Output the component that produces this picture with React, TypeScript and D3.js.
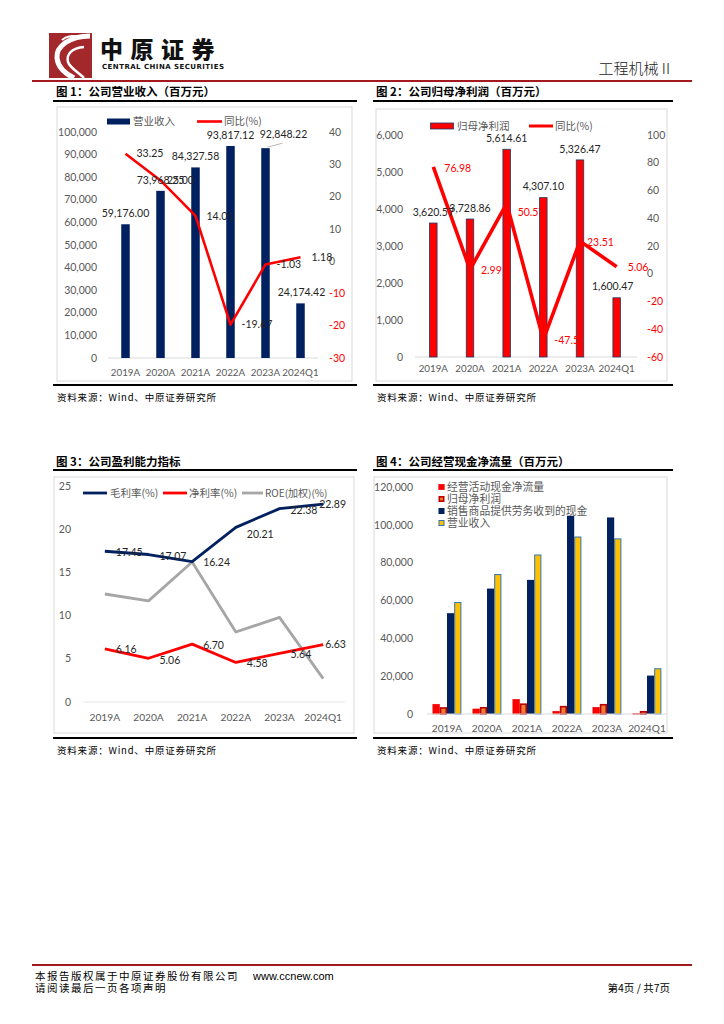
import React from 'react';
import * as d3 from 'd3';

const years = ['2019A', '2020A', '2021A', '2022A', '2023A', '2024Q1'];
const revenue = [59176.0, 73968.25, 84327.58, 93817.12, 92848.22, 24174.42];
const revenueYoY = [33.25, 25.0, 14.01, -19.67, -1.03, 1.18];
const netProfit = [3620.57, 3728.86, 5614.61, 4307.1, 5326.47, 1600.47];
const netProfitYoY = [76.98, 2.99, 50.57, -47.5, 23.51, 5.06];
const netProfitYoYLabels = ['76.98', '2.99', '50.57', '-47.5', '23.51', '5.06'];
const grossMargin = [17.45, 17.07, 16.24, 20.21, 22.38, 22.89];
const netMargin = [6.16, 5.06, 6.7, 4.58, 5.64, 6.63];
const roe = [12.5, 11.7, 16.2, 8.1, 9.8, 2.7];
const opCashFlow = [5300, 2800, 7900, 1600, 3700, 300];
const salesCash = [53300, 66300, 70900, 104800, 103900, 20300];
const cashSeriesNames = ['经营活动现金净流量', '归母净利润', '销售商品提供劳务收到的现金', '营业收入'];

const NUM = 'Lato, "Noto Sans", sans-serif';
const CJK = '"Noto Sans CJK SC", sans-serif';
const AX = '#595959';
const NAVY = '#002060';
const RED = '#ff0000';

const fmt2 = d3.format(',.2f');
const fmt0 = d3.format(',');

function Frame({ x1, x2, titleY, lineY, boxTop, boxBottom, bottomY, title, bx1, bx2 }: any) {
  return (
    <g>
      <text x={x1 + 3} y={titleY} fontFamily={CJK} fontWeight={700} fontSize={11.5} fill="#000">{title}</text>
      <line x1={x1} x2={x2} y1={lineY} y2={lineY} stroke="#000" strokeWidth={2} />
      <rect x={bx1} y={boxTop} width={bx2 - bx1} height={boxBottom - boxTop} fill="#fff" stroke="#d9d9d9" strokeWidth={1} />
      <line x1={x1} x2={x2} y1={bottomY} y2={bottomY} stroke="#000" strokeWidth={2} />
      <text x={x1 + 4} y={bottomY + 16} fontFamily={CJK} fontSize={9.5} fill="#000" letterSpacing={0.8}>资料来源：Wind、中原证券研究所</text>
    </g>
  );
}

function Chart1() {
  const x = d3.scaleBand().domain(years).range([108, 318]);
  const yL = d3.scaleLinear().domain([0, 100000]).range([358, 132]);
  const yR = d3.scaleLinear().domain([-30, 40]).range([358, 132]);
  const bw = 8.5;
  const cx = (d: string) => (x(d) as number) + x.bandwidth() / 2;
  const line = d3.line<number>().x((_, i) => cx(years[i])).y((v) => yR(v));
  return (
    <g>
      <Frame x1={53} x2={357} titleY={96} lineY={101} boxTop={107} boxBottom={381} bottomY={385} bx1={57} bx2={352} title="图 1：公司营业收入（百万元）" />
      {yL.ticks(10).map((t) => (
        <text key={t} x={97} y={yL(t)} dy="0.35em" textAnchor="end" fontFamily={NUM} fontSize={10.5} fill={AX}>{fmt0(t)}</text>
      ))}
      {d3.range(-30, 41, 10).map((t) => (
        <text key={t} x={329} y={yR(t)} dy="0.35em" fontFamily={NUM} fontSize={10.5} fill={t < 0 ? RED : AX}>{t}</text>
      ))}
      <line x1={108} x2={318} y1={358} y2={358} stroke="#d9d9d9" />
      {years.map((d, i) => (
        <rect key={d} x={cx(d) - bw / 2} y={yL(revenue[i])} width={bw} height={358 - yL(revenue[i])} fill={NAVY} />
      ))}
      {years.map((d) => (
        <text key={d} x={cx(d)} y={373} dy="0.35em" textAnchor="middle" fontFamily={NUM} fontSize={9.8} fill={AX}>{d}</text>
      ))}
      <path d={line(revenueYoY) as string} fill="none" stroke={RED} strokeWidth={2.6} strokeLinejoin="round" />
      {years.map((d, i) => {
        if (i === 4) {
          return (
            <g key={d}>
              <line x1={cx(d) + 2} y1={yL(revenue[i]) - 1} x2={cx(d) + 17} y2={yL(revenue[i]) - 5} stroke="#a6a6a6" strokeWidth={0.8} />
              <text x={cx(d) + 18} y={yL(revenue[i]) - 14} dy="0.35em" textAnchor="middle" fontFamily={NUM} fontSize={10.5} fill="#262626">{fmt2(revenue[i])}</text>
            </g>
          );
        }
        return (
          <text key={d} x={cx(d) + (i === 5 ? 1 : 0)} y={yL(revenue[i]) - 11} dy="0.35em" textAnchor="middle" fontFamily={NUM} fontSize={10.5} fill="#262626">{fmt2(revenue[i])}</text>
        );
      })}
      {years.map((d, i) => (
        <text key={d} x={cx(d) + (i === 1 ? 6.5 : 11)} y={yR(revenueYoY[i])} dy="0.35em" fontFamily={NUM} fontSize={10.5} fill="#262626">{revenueYoY[i].toFixed(2)}</text>
      ))}
      <rect x={107} y={118.5} width={23} height={6} fill={NAVY} />
      <text x={133} y={121.5} dy="0.35em" fontFamily={CJK} fontSize={10.5} fill={AX}>营业收入</text>
      <line x1={197} x2={222} y1={121.5} y2={121.5} stroke={RED} strokeWidth={2.6} />
      <text x={224} y={121.5} dy="0.35em" fontFamily={CJK} fontSize={10.5} fill={AX}>同比(%)</text>
    </g>
  );
}

function Chart2() {
  const x = d3.scaleBand().domain(years).range([415, 635]);
  const yL = d3.scaleLinear().domain([0, 6000]).range([357, 135]);
  const yR = d3.scaleLinear().domain([-60, 100]).range([357, 135]);
  const bw = 7.5;
  const cx = (d: string) => (x(d) as number) + x.bandwidth() / 2;
  const line = d3.line<number>().x((_, i) => cx(years[i])).y((v) => yR(v));
  return (
    <g>
      <Frame x1={373} x2={673} titleY={96} lineY={101} boxTop={109} boxBottom={381} bottomY={385} bx1={376} bx2={667} title="图 2：公司归母净利润（百万元）" />
      {yL.ticks(6).map((t) => (
        <text key={t} x={403} y={yL(t)} dy="0.35em" textAnchor="end" fontFamily={NUM} fontSize={10.5} fill={AX}>{fmt0(t)}</text>
      ))}
      {d3.range(-60, 101, 20).map((t) => (
        <text key={t} x={647} y={yR(t)} dy="0.35em" fontFamily={NUM} fontSize={10.5} fill={t < 0 ? RED : AX}>{t}</text>
      ))}
      <line x1={415} x2={637} y1={357} y2={357} stroke="#d9d9d9" />
      {years.map((d, i) => (
        <rect key={d} x={cx(d) - bw / 2} y={yL(netProfit[i])} width={bw} height={357 - yL(netProfit[i])} fill={RED} stroke="#1f3864" strokeWidth={0.8} />
      ))}
      {years.map((d) => (
        <text key={d} x={cx(d)} y={369} dy="0.35em" textAnchor="middle" fontFamily={NUM} fontSize={9.8} fill={AX}>{d}</text>
      ))}
      <path d={line(netProfitYoY) as string} fill="none" stroke={RED} strokeWidth={3.6} strokeLinejoin="round" />
      {years.map((d, i) => (
        <text key={d} x={cx(d) - (i === 5 ? 4 : 0)} y={yL(netProfit[i]) - 11} dy="0.35em" textAnchor="middle" fontFamily={NUM} fontSize={10.5} fill="#262626">{fmt2(netProfit[i])}</text>
      ))}
      {years.map((d, i) => (
        <text key={d} x={cx(d) + (i === 4 ? 7 : 11)} y={yR(netProfitYoY[i]) + (i === 2 ? 9 : 1)} dy="0.35em" fontFamily={NUM} fontSize={10.5} fill={RED}>{netProfitYoYLabels[i]}</text>
      ))}
      <rect x={430.5} y={123} width={23} height={6} fill={RED} stroke="#1f3864" strokeWidth={0.8} />
      <text x={457} y={126} dy="0.35em" fontFamily={CJK} fontSize={10.5} fill={AX}>归母净利润</text>
      <line x1={529} x2={553} y1={126} y2={126} stroke={RED} strokeWidth={3} />
      <text x={555} y={126} dy="0.35em" fontFamily={CJK} fontSize={10.5} fill={AX}>同比(%)</text>
    </g>
  );
}

function Chart3() {
  const x = d3.scaleBand().domain(years).range([83, 345]);
  const y = d3.scaleLinear().domain([0, 25]).range([702, 486]);
  const cx = (d: string) => (x(d) as number) + x.bandwidth() / 2;
  const line = d3.line<number>().x((_, i) => cx(years[i])).y((v) => y(v));
  const lab = (vals: number[], dy: number[], dxLast: number) =>
    years.map((d, i) => (
      <text key={d} x={cx(d) + (i === 5 ? dxLast : 11)} y={y(vals[i]) + dy[i]} dy="0.35em" fontFamily={NUM} fontSize={10.5} fill="#262626">{vals[i].toFixed(2)}</text>
    ));
  return (
    <g>
      <Frame x1={53} x2={357} titleY={466} lineY={470} boxTop={477} boxBottom={733} bottomY={738} bx1={54} bx2={354} title="图 3：公司盈利能力指标" />
      {y.ticks(5).map((t) => (
        <text key={t} x={71} y={y(t)} dy="0.35em" textAnchor="end" fontFamily={NUM} fontSize={10.5} fill={AX}>{t}</text>
      ))}
      <line x1={83} x2={345} y1={702} y2={702} stroke="#e6e6e6" />
      {years.map((d) => (
        <text key={d} x={cx(d)} y={717} dy="0.35em" textAnchor="middle" fontFamily={NUM} fontSize={10.2} fill={AX}>{d}</text>
      ))}
      <path d={line(roe) as string} fill="none" stroke="#a6a6a6" strokeWidth={2.8} strokeLinejoin="round" />
      <path d={line(netMargin) as string} fill="none" stroke={RED} strokeWidth={2.8} strokeLinejoin="round" />
      <path d={line(grossMargin) as string} fill="none" stroke={NAVY} strokeWidth={2.8} strokeLinejoin="round" />
      {lab(grossMargin, [1, 2, 1, 7, 2, 0], -4)}
      {lab(netMargin, [1, 2, 1, 1, 1, 0], 2)}
      <line x1={83} x2={107} y1={493} y2={493} stroke={NAVY} strokeWidth={2.8} />
      <text x={110} y={493} dy="0.35em" fontFamily={CJK} fontSize={10.5} fill={AX}>毛利率(%)</text>
      <line x1={163} x2={187} y1={493} y2={493} stroke={RED} strokeWidth={2.8} />
      <text x={189} y={493} dy="0.35em" fontFamily={CJK} fontSize={10.5} fill={AX}>净利率(%)</text>
      <line x1={242} x2={263} y1={493} y2={493} stroke="#a6a6a6" strokeWidth={2.8} />
      <text x={265} y={493} dy="0.35em" fontFamily={CJK} fontSize={10} fill={AX}>ROE(加权)(%)</text>
    </g>
  );
}

function Chart4() {
  const x = d3.scaleBand().domain(years).range([427, 667]);
  const inner = d3.scaleBand().domain(['a', 'b', 'c', 'd']).range([0, 28.8]);
  const y = d3.scaleLinear().domain([0, 120000]).range([714, 487]);
  const series = [opCashFlow, netProfit, salesCash, revenue];
  const fills = [RED, '#ed7d31', NAVY, '#ffc000'];
  const strokes = ['#e00000', '#c00000', 'none', '#2e75b6'];
  const sw = [0.5, 1.6, 0, 1];
  const keys = ['a', 'b', 'c', 'd'];
  return (
    <g>
      <Frame x1={373} x2={673} titleY={466} lineY={470} boxTop={477} boxBottom={733} bottomY={738} bx1={374} bx2={667} title="图 4：公司经营现金净流量（百万元）" />
      {y.ticks(6).map((t) => (
        <text key={t} x={413} y={y(t)} dy="0.35em" textAnchor="end" fontFamily={NUM} fontSize={10.5} fill={AX}>{fmt0(t)}</text>
      ))}
      {years.map((d, i) => {
        const g0 = (x(d) as number) + x.bandwidth() / 2 - 14.4;
        return (
          <g key={d}>
            {series.map((s, k) => {
              const w = inner.bandwidth();
              const h = 714 - y(s[i]);
              const inset = sw[k] / 2;
              return (
                <rect key={k} x={g0 + (inner(keys[k]) as number) + inset} y={y(s[i]) + inset} width={w - 2 * inset} height={Math.max(h - inset, 0.5)} fill={fills[k]} stroke={strokes[k]} strokeWidth={sw[k]} />
              );
            })}
          </g>
        );
      })}
      <line x1={427} x2={667} y1={714} y2={714} stroke="#d9d9d9" />
      {years.map((d) => (
        <text key={d} x={(x(d) as number) + x.bandwidth() / 2} y={728} dy="0.35em" textAnchor="middle" fontFamily={NUM} fontSize={10.2} fill={AX}>{d}</text>
      ))}
      {cashSeriesNames.map((n, k) => (
        <g key={n}>
          <rect x={438.5 + sw[k] / 2} y={484 + k * 12 + sw[k] / 2} width={6 - sw[k]} height={6 - sw[k]} fill={fills[k]} stroke={strokes[k]} strokeWidth={sw[k]} />
          <text x={447} y={487 + k * 12} dy="0.35em" fontFamily={CJK} fontSize={10.8} fill={AX}>{n}</text>
        </g>
      ))}
    </g>
  );
}

function Header() {
  return (
    <g>
      <rect x={49} y={33} width={43} height={45} fill="#a3282c" />
      <path d="M 90 36 C 70 36, 56 46, 57 58 C 58 68, 66 74, 74 78" fill="none" stroke="#fff" strokeWidth={5} />
      <path d="M 84 47 C 72 48, 66 54, 68 62 C 70 68, 78 72, 84 78" fill="none" stroke="#fff" strokeWidth={2.5} />
      <path d="M 62 40 C 66 36, 74 35, 78 37" fill="none" stroke="#fff" strokeWidth={2} />
      <text x={100} y={58} fontFamily={CJK} fontWeight={900} fontSize={23} letterSpacing={7.5} fill="#111">中原证券</text>
      <text x={102} y={69} fontFamily={'"DejaVu Sans", sans-serif'} fontWeight={700} fontSize={7} letterSpacing={0.05} fill="#111" textLength={122}>CENTRAL CHINA SECURITIES</text>
      <text x={670} y={74} textAnchor="end" fontFamily={CJK} fontWeight={300} fontSize={15} fill="#222">工程机械 II</text>
      <line x1={32} x2={692} y1={81} y2={81} stroke="#a3191e" strokeWidth={2.2} />
    </g>
  );
}

function Footer() {
  return (
    <g>
      <line x1={32} x2={692} y1={965} y2={965} stroke="#a3191e" strokeWidth={2} />
      <text x={35} y={976} dy="0.35em" fontFamily={CJK} fontSize={10.5} letterSpacing={1.5} fill="#000">本报告版权属于中原证券股份有限公司</text>
      <text x={253} y={976} dy="0.35em" fontFamily={'"Liberation Sans", Arial, sans-serif'} fontSize={11} fill="#000">www.ccnew.com</text>
      <text x={35} y={988} dy="0.35em" fontFamily={CJK} fontSize={10.5} letterSpacing={1.5} fill="#000">请阅读最后一页各项声明</text>
      <text x={670} y={988} dy="0.35em" textAnchor="end" fontFamily={CJK} fontSize={10.5} fill="#000">第4页 / 共7页</text>
    </g>
  );
}

export default function App() {
  return (
    <svg width={724} height={1024} viewBox="0 0 724 1024" style={{ position: 'absolute', left: 0, top: 0, background: '#fff' }}>
      <rect x={0} y={0} width={724} height={1024} fill="#fff" />
      <Header />
      <Chart1 />
      <Chart2 />
      <Chart3 />
      <Chart4 />
      <Footer />
    </svg>
  );
}
